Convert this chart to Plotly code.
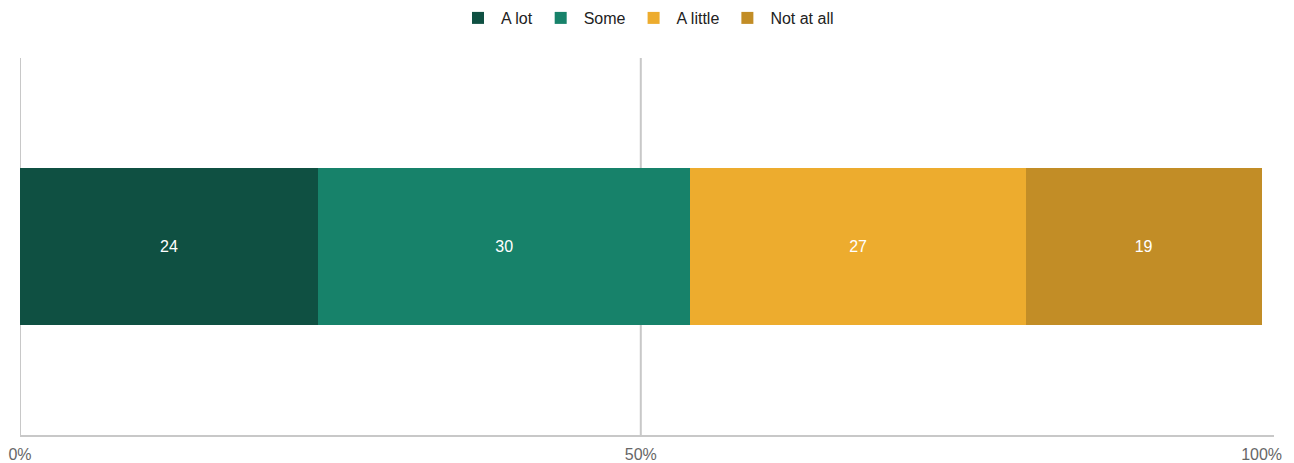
import plotly.graph_objects as go

categories = ["All"]
series_names = ["A lot", "Some", "A little", "Not at all"]
values = [[24], [30], [27], [19]]
colors = ["#0f5042", "#17826a", "#edac2e", "#c28d26"]
tick_vals = [0, 50, 100]
tick_text = ["0%", "50%", "100%"]

W, H = 1286, 455  # page body has an 8px margin

fig = go.Figure()
for name, v, c in zip(series_names, values, colors):
    fig.add_trace(go.Bar(
        y=categories, x=v, name=name, orientation="h",
        marker=dict(color=c, line=dict(width=0)),
        text=[str(x) for x in v], textposition="inside", insidetextanchor="middle",
        textfont=dict(color="white", size=16, family="Liberation Sans, Arial, sans-serif"),
        hoverinfo="x+name",
    ))

fig.update_layout(
    barmode="stack",
    bargap=0.584,
    width=W, height=H,
    margin=dict(l=12, r=20, t=50, b=28, autoexpand=False),
    plot_bgcolor="white", paper_bgcolor="white",
    font=dict(family="Liberation Sans, Arial, sans-serif", size=16, color="#222"),
    legend=dict(orientation="h", x=0.5, xanchor="center", y=1 - 10 / H, yref="container", yanchor="middle",
                font=dict(size=16, color="#222"), traceorder="normal", itemwidth=36),
    xaxis=dict(range=[0, 101], tickvals=tick_vals, ticktext=tick_text, automargin=False,
               showgrid=False, zeroline=False, showline=True, linecolor="#c8c8c8", linewidth=2,
               ticks="", ticklabelstandoff=4, tickfont=dict(size=16, color="#666")),
    yaxis=dict(showticklabels=False, showgrid=False, zeroline=False, showline=False, automargin=False),
    shapes=[
        dict(type="line", xref="x", yref="paper", x0=50, x1=50, y0=0, y1=1,
             line=dict(color="#c8c8c8", width=2), layer="below"),
        dict(type="line", xref="x", yref="paper", x0=0, x1=0, y0=0, y1=1,
             line=dict(color="#c8c8c8", width=2), layer="below"),
    ],
)

fig.write_html("out.html")
